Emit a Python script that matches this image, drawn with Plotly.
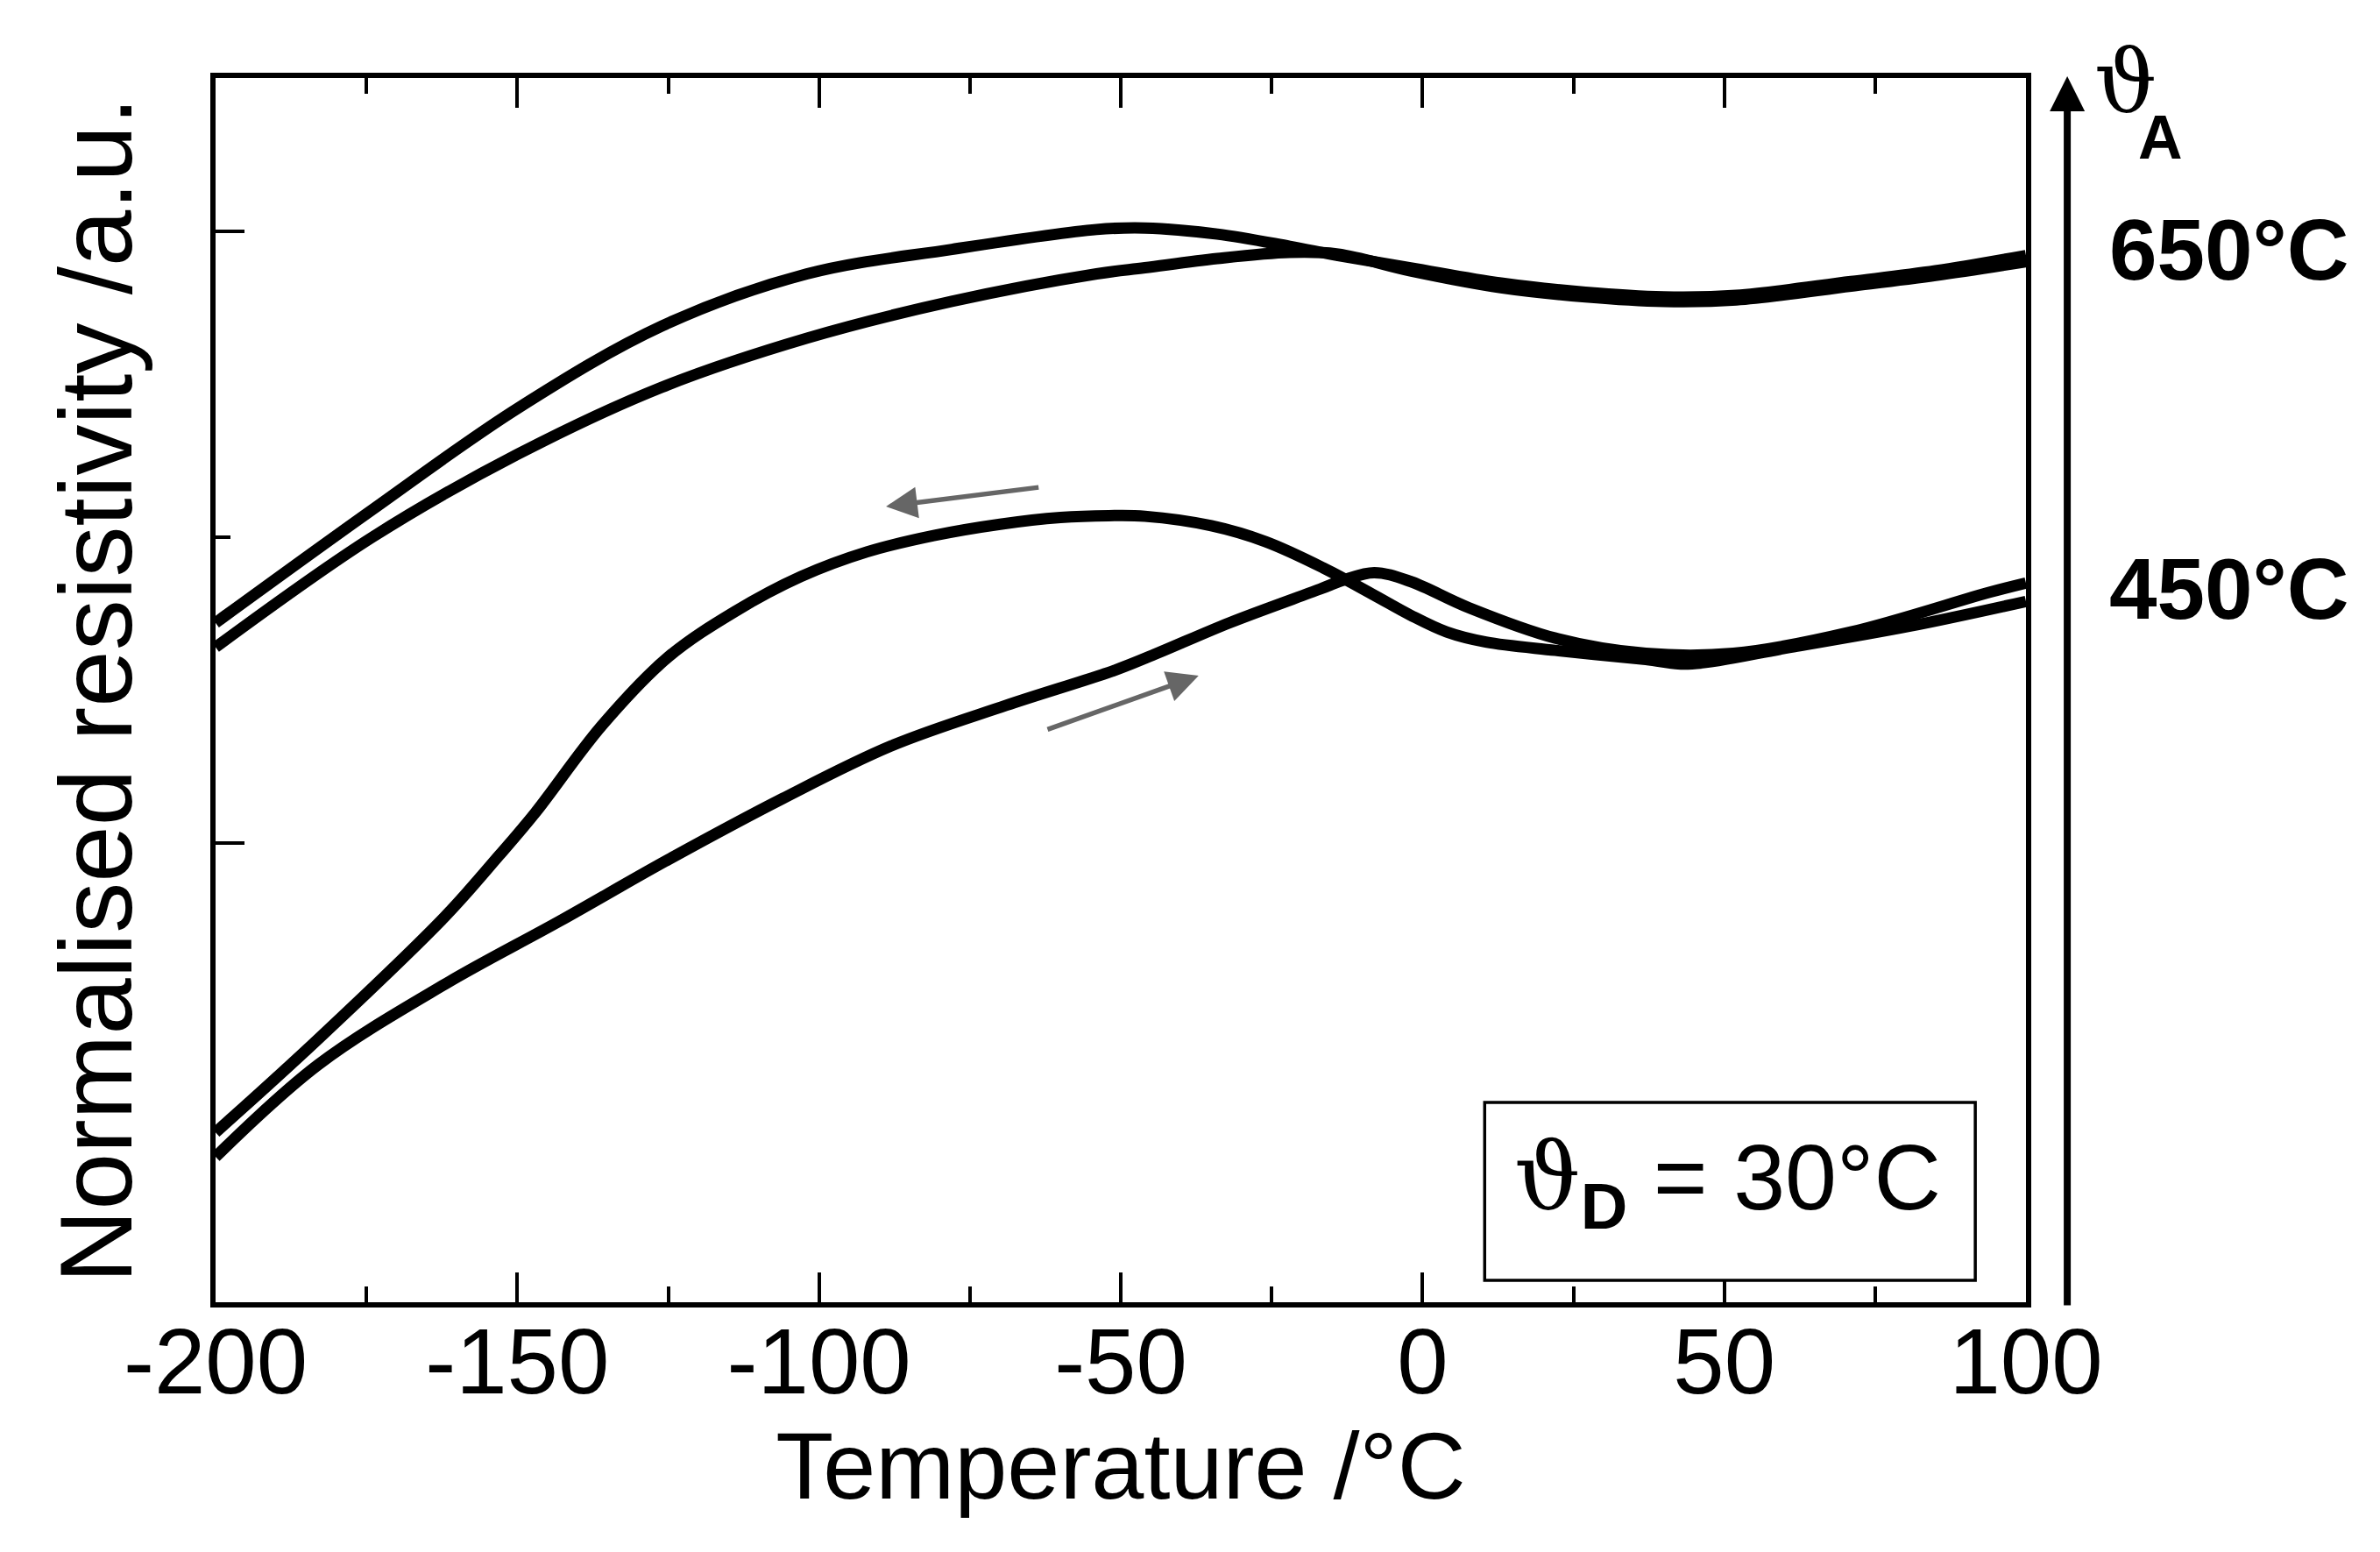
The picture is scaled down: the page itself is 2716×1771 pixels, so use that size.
import plotly.graph_objects as go

# curves (temperature in C, resistivity in a.u.)
t_650 = [-200, -174, -150, -126, -102, -78, -54, -46, -34, -22, -14, -2, 13, 27, 40, 52, 71, 85, 100]
r_650_a = [2.22, 2.59, 2.92, 3.19, 3.36, 3.44, 3.505, 3.51, 3.49, 3.45, 3.42, 3.38, 3.33, 3.30, 3.285, 3.29, 3.335, 3.37, 3.42]
r_650_b = [2.14, 2.50, 2.77, 2.99, 3.15, 3.27, 3.36, 3.38, 3.41, 3.43, 3.425, 3.37, 3.315, 3.285, 3.27, 3.275, 3.32, 3.355, 3.40]

t_450_cool = [-200, -183, -162, -153, -147, -136, -125, -114, -103, -92, -81, -70, -60, -52, -46,
              -35, -26, -16.5, -8, -2, 4, 10.5, 22, 37, 44, 61, 81, 100]
r_450_cool = [0.555, 0.86, 1.26, 1.46, 1.60, 1.884, 2.108, 2.256, 2.371, 2.452, 2.505, 2.542, 2.564, 2.57, 2.568,
              2.537, 2.485, 2.40, 2.31, 2.245, 2.19, 2.157, 2.13, 2.10, 2.085, 2.14, 2.21, 2.29]

t_450_heat = [-200, -183, -162, -143, -125, -106, -88, -69, -51, -44, -32, -17, -13, -8, -2,
              7.6, 22, 37, 51.5, 71, 94, 100]
r_450_heat = [0.475, 0.776, 1.039, 1.245, 1.446, 1.646, 1.818, 1.95, 2.065, 2.12, 2.22, 2.33, 2.36, 2.384, 2.355,
              2.27, 2.17, 2.12, 2.12, 2.19, 2.32, 2.35]

x_ticks = [-200, -150, -100, -50, 0, 50, 100]
x_ticktext = ["-200", "-150", "-100", "-50", "0", "50", "100"]
anneal_labels = ["650°C", "450°C"]

FONT = "Liberation Sans, Arial, sans-serif"
THETA = '<span style="font-family:DejaVu Serif">ϑ</span>'

fig = go.Figure()

for xs, ys in [(t_650, r_650_a), (t_650, r_650_b), (t_450_cool, r_450_cool), (t_450_heat, r_450_heat)]:
    fig.add_trace(go.Scatter(x=xs, y=ys, mode="lines",
                             line=dict(color="black", width=13, shape="spline", smoothing=1.0),
                             showlegend=False, hoverinfo="skip"))

fig.update_layout(
    width=2716,
    height=1771,
    autosize=False,
    margin=dict(l=238, r=412, t=81, b=293),
    paper_bgcolor="white",
    plot_bgcolor="white",
    font=dict(family=FONT, color="black"),
)

fig.update_xaxes(
    range=[-200, 100],
    tickmode="array", tickvals=x_ticks, ticktext=x_ticktext,
    tickfont=dict(size=105), ticklabelstandoff=-28,
    ticks="inside", ticklen=34, tickwidth=4, tickcolor="black",
    minor=dict(tickmode="linear", tick0=-175, dtick=50, ticks="inside", ticklen=18, tickwidth=4, tickcolor="black"),
    showline=True, linewidth=5.5, linecolor="black", mirror="ticks",
    showgrid=False, zeroline=False,
    title=dict(text="Temperature /°C", font=dict(size=108), standoff=20),
)

fig.update_yaxes(
    range=[0, 4],
    tickmode="array", tickvals=[1.5, 3.5], showticklabels=False,
    ticks="inside", ticklen=33, tickwidth=4, tickcolor="black",
    minor=dict(tickmode="array", tickvals=[2.5], ticks="inside", ticklen=17, tickwidth=4, tickcolor="black"),
    showline=True, linewidth=5.5, linecolor="black", mirror=True,
    showgrid=False, zeroline=False,
    title=dict(text="Normalised resistivity /a.u.", font=dict(size=116), standoff=53),
)

# sample box
fig.add_shape(type="rect", xref="x", yref="y", x0=10.3, x1=91.6, y0=0.0716, y1=0.653,
              line=dict(color="black", width=3.5), fillcolor="white", layer="above")

annotations = [
    # cooling / heating direction arrows
    dict(x=-88.9, y=2.60, ax=-63.4, ay=2.663, xref="x", yref="y", axref="x", ayref="y",
         text="", showarrow=True, arrowhead=2, arrowsize=1.3, arrowwidth=5.5, arrowcolor="#666666"),
    dict(x=-37.1, y=2.047, ax=-62.35, ay=1.87, xref="x", yref="y", axref="x", ayref="y",
         text="", showarrow=True, arrowhead=2, arrowsize=1.3, arrowwidth=5.5, arrowcolor="#666666"),
    # annealing temperature arrow on the right
    dict(x=1.0228, y=1.0014, xref="paper", yref="paper", ax=0, ay=1404,
         text="", showarrow=True, arrowhead=2, arrowsize=1.0, arrowwidth=8, arrowcolor="black", standoff=0),
    dict(x=1.037, y=0.997, xref="paper", yref="paper", xanchor="left", yanchor="middle",
         text=THETA, showarrow=False, font=dict(size=100)),
    dict(x=1.061, y=0.951, xref="paper", yref="paper", xanchor="left", yanchor="middle",
         text="<b>A</b>", showarrow=False, font=dict(size=70)),
    dict(x=1.045, y=0.860, xref="paper", yref="paper", xanchor="left", yanchor="middle",
         text="<b>" + anneal_labels[0] + "</b>", showarrow=False, font=dict(size=98)),
    dict(x=1.045, y=0.583, xref="paper", yref="paper", xanchor="left", yanchor="middle",
         text="<b>" + anneal_labels[1] + "</b>", showarrow=False, font=dict(size=98)),
    dict(x=50.5, y=0.39, xref="x", yref="y", xanchor="center", yanchor="middle",
         text=THETA + "<sub><b>D</b></sub> = 30°C", showarrow=False, font=dict(size=106)),
]
fig.update_layout(annotations=annotations)

fig.write_html("out.html")
